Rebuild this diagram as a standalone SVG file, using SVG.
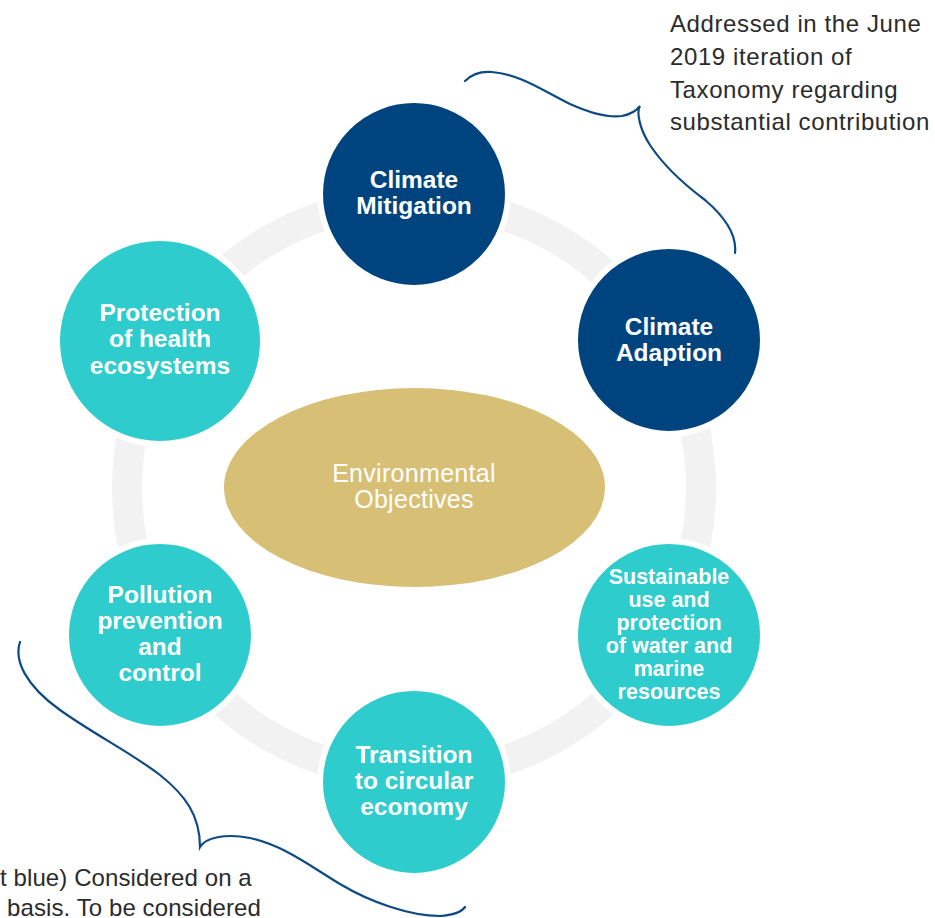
<svg xmlns="http://www.w3.org/2000/svg" width="935" height="918" viewBox="0 0 935 918">
<style>
.ring{fill:none;stroke:#f2f2f2;stroke-width:30}
.dark{fill:#00447f;stroke:#fff;stroke-width:6}
.teal{fill:#2ecccc;stroke:#fff;stroke-width:6}
.lbl{font-family:"Liberation Sans",Arial,sans-serif;font-weight:bold;font-size:24.5px;fill:#fff;text-anchor:middle}
.sm{font-size:21.5px}
.ctr{font-family:"Liberation Sans",Arial,sans-serif;font-size:25px;letter-spacing:0.3px;fill:#fff;text-anchor:middle}
.note{font-family:"Liberation Sans",Arial,sans-serif;font-size:24px;letter-spacing:0.6px;fill:#2b2b2b}
.nb{letter-spacing:0.1px}
.brace{fill:none;stroke:#0d4a85;stroke-width:2.2;stroke-linecap:round}
</style>
<rect width="935" height="918" fill="#fff"/>
<g id="connectors">
<circle class="ring" cx="414" cy="488" r="287"/>
<path class="brace" d="M465,81 C472,74 480,71 492,72 C520,74 545,92 570,104 C590,113 608,118 622,116 C632,114 637,110 640,106 C636,112 640,130 650,145 C665,168 685,185 705,200 C725,217 737,235 735,253"/>
<path class="brace" d="M20,642 C14,660 25,685 60,710 C95,735 130,752 160,775 C185,795 200,815 200,847 C205,838 225,833 250,838 C285,846 310,866 340,884 C370,902 410,916 440,916 C455,915 462,911 465,907"/>
</g>
<g id="center"><ellipse cx="414.5" cy="487.5" rx="190.5" ry="99.5" fill="#d8bf76"/>
<text class="ctr" x="414" y="482">Environmental</text><text class="ctr" x="414" y="508">Objectives</text></g>
<g id="mitigation"><circle class="dark" cx="414" cy="194" r="94"/>
<text class="lbl" x="414" y="188">Climate</text><text class="lbl" x="414" y="214">Mitigation</text></g>
<g id="adaption"><circle class="dark" cx="669" cy="340" r="94"/>
<text class="lbl" x="669" y="335">Climate</text><text class="lbl" x="669" y="361">Adaption</text></g>
<g id="water"><circle class="teal" cx="669" cy="635" r="94"/>
<text class="lbl sm" x="669" y="584">Sustainable</text><text class="lbl sm" x="669" y="607">use and</text><text class="lbl sm" x="669" y="630">protection</text><text class="lbl sm" x="669" y="653">of water and</text><text class="lbl sm" x="669" y="676">marine</text><text class="lbl sm" x="669" y="699">resources</text></g>
<g id="circular"><circle class="teal" cx="414" cy="782" r="94"/>
<text class="lbl" x="414" y="763">Transition</text><text class="lbl" x="414" y="789">to circular</text><text class="lbl" x="414" y="815">economy</text></g>
<g id="pollution"><circle class="teal" cx="160" cy="635" r="94"/>
<text class="lbl" x="160" y="603">Pollution</text><text class="lbl" x="160" y="629">prevention</text><text class="lbl" x="160" y="655">and</text><text class="lbl" x="160" y="681">control</text></g>
<g id="health"><circle class="teal" cx="160" cy="341" r="103"/>
<text class="lbl" x="160" y="321">Protection</text><text class="lbl" x="160" y="347">of health</text><text class="lbl" x="160" y="374">ecosystems</text></g>
<g id="note-top">
<text class="note" x="670" y="32">Addressed in the June</text>
<text class="note" x="670" y="65">2019 iteration of</text>
<text class="note" x="670" y="98">Taxonomy regarding</text>
<text class="note" x="670" y="130">substantial contribution</text>
</g>
<g id="note-bottom">
<text class="note nb" x="0" y="886">t blue) Considered on a</text>
<text class="note nb" x="7" y="916">basis. To be considered</text>
</g>
</svg>
